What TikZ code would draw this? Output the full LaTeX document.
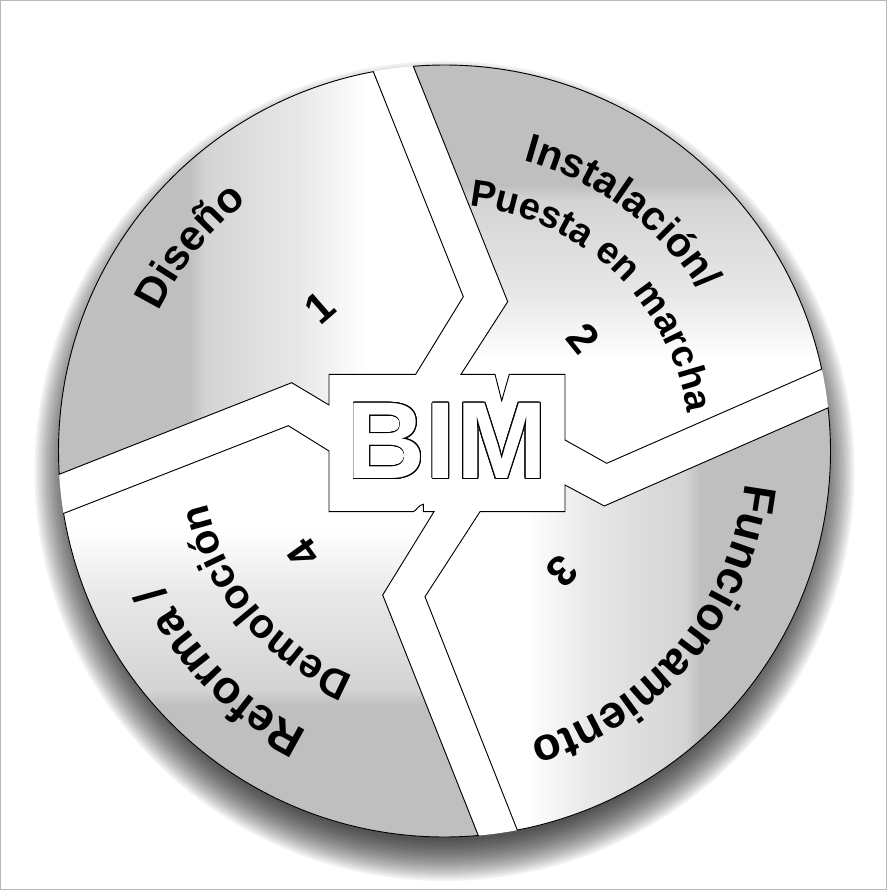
\documentclass[tikz,border=0pt]{standalone}
\usepackage{fontspec}
\setmainfont{Liberation Sans}
\usetikzlibrary{calc,decorations.text}
\definecolor{shgray}{gray}{0.75}
\definecolor{shgb}{gray}{0.83}
\definecolor{shgc}{gray}{0.91}
\definecolor{framegray}{gray}{0.72}
\pgfdeclarehorizontalshading{grL}{100bp}{color(0bp)=(shgray); color(25bp)=(shgray); color(29.3bp)=(shgb); color(56.4bp)=(shgc); color(75bp)=(white); color(100bp)=(white)}
\pgfdeclarehorizontalshading{grR}{100bp}{color(0bp)=(white); color(25bp)=(white); color(43.6bp)=(shgc); color(70.7bp)=(shgb); color(75bp)=(shgray); color(100bp)=(shgray)}
\pgfdeclareverticalshading{grB}{100bp}{color(0bp)=(shgray); color(25bp)=(shgray); color(29.3bp)=(shgb); color(56.4bp)=(shgc); color(75bp)=(white); color(100bp)=(white)}
\pgfdeclareverticalshading{grT}{100bp}{color(0bp)=(white); color(25bp)=(white); color(43.6bp)=(shgc); color(70.7bp)=(shgb); color(75bp)=(shgray); color(100bp)=(shgray)}
% #1 radius, #2 centre angle, #3 font size (pt), #4 text
\newcommand\arclabel[4]{\path[decorate, decoration={text along path, text={|\bfseries\fontsize{#3}{#3}\selectfont|#4}, text align=center}] ($(C)+({#2+70}:#1)$) arc[start angle={#2+70}, end angle={#2-70}, radius=#1];}
\begin{document}
\begin{tikzpicture}[x=0.75pt,y=0.75pt,
  piece/.style={draw=black, line width=0.7pt},
  num/.style={font=\bfseries\fontsize{32}{36}\selectfont, inner sep=0pt},
  bimtxt/.style={font=\bfseries\fontsize{82}{90}\selectfont, inner sep=0pt, anchor=base}]
\useasboundingbox (0,0) rectangle (887,890);
\coordinate (C) at (444.5,439);
\draw[framegray, line width=0.75pt] (0.5,0.5) rectangle (886.5,889.5);
% shadow
\foreach \k in {0,...,20} \fill[black, opacity=0.05] ($(C)+(0,-20)$) circle ({410-2*\k});
\fill[white] (C) circle (386);
% piece paths
\def\PieceA{($(C)+(183.46:386)$) arc[start angle=183.46, end angle=100.63, radius=386] -- (463.3,593.3) -- (415.7,515.7) -- (329,515.7) -- (329,485) -- (291.7,507.3) -- cycle}
\def\PieceB{($(C)+(94.63:386)$) -- (507.7,588.3) -- (461,515.7) -- (495,515.7) -- (501.7,489.3) -- (509.3,515.7) -- (565,515.7) -- (565,450) -- (606.7,426.7) -- ($(C)+(12.25:386)$) arc[start angle=12.25, end angle=94.63, radius=386] -- cycle}
\def\PieceC{($(C)+(6.42:386)$) -- (604.3,384) -- (565,405) -- (565,378.3) -- (480,378.3) -- (425,293.3) -- ($(C)+(-79.13:386)$) arc[start angle=-79.13, end angle=6.42, radius=386] -- cycle}
\def\PieceD{($(C)+(-84.98:386)$) -- (382.7,295) -- (434,378.3) -- (423.3,378.3) -- (423.3,385.7) .. controls (419,385.5) and (416,379) .. (413.3,378.3) -- (329,378.3) -- (329,439) -- (288.3,464.3) -- ($(C)+(189.31:386)$) arc[start angle=189.31, end angle=275.02, radius=386] -- cycle}
% piece 1
\begin{scope}
  \clip \PieceA;
  \fill[shgray] (0,0) rectangle (190.5,890);
  \shade[shading=grL] (190,0) rectangle (365,890);
  \fill[white] (364.5,0) rectangle (887,890);
\end{scope}
\draw[piece] \PieceA;
% piece 2
\begin{scope}
  \clip \PieceB;
  \fill[shgray] (0,704.5) rectangle (887,890);
  \shade[shading=grT] (0,530) rectangle (887,705);
  \fill[white] (0,0) rectangle (887,530.5);
\end{scope}
\draw[piece] \PieceB;
% piece 3
\begin{scope}
  \clip \PieceC;
  \fill[white] (0,0) rectangle (525.5,890);
  \shade[shading=grR] (525,0) rectangle (700,890);
  \fill[shgray] (699.5,0) rectangle (887,890);
\end{scope}
\draw[piece] \PieceC;
% piece 4
\begin{scope}
  \clip \PieceD;
  \fill[shgray] (0,0) rectangle (887,185.5);
  \shade[shading=grB] (0,185) rectangle (887,360);
  \fill[white] (0,359.5) rectangle (887,890);
\end{scope}
\draw[piece] \PieceD;
% BIM outlined
\foreach \i in {0,...,15} \node[bimtxt, text=black] (bimo\i) at ($(447.2,411.5)+(\i*22.5:0.95)$) {BIM};
\node[bimtxt, text=white] (bim) at (447.2,411.5) {BIM};
% numbers
\node[num, rotate=41] (n1) at (320,582.7) {1};
\node[num, rotate=-51] (n2) at (584,551.7) {2};
\node[num, rotate=-135.7] (n3) at (562.3,318.3) {3};
\node[num, rotate=125.9] (n4) at (303.3,336.7) {4};
% curved labels
\arclabel{318}{141.15}{32}{Diseño}
\arclabel{301}{53.4}{30.7}{Instalación/}
\arclabel{246}{46.55}{28.4}{Puesta en marcha}
\arclabel{302}{-39.8}{34.5}{Funcionamiento}
\arclabel{312}{224.6}{34.5}{Reforma /}
\arclabel{243}{220.2}{30.9}{Demoloción}
\end{tikzpicture}
\end{document}
